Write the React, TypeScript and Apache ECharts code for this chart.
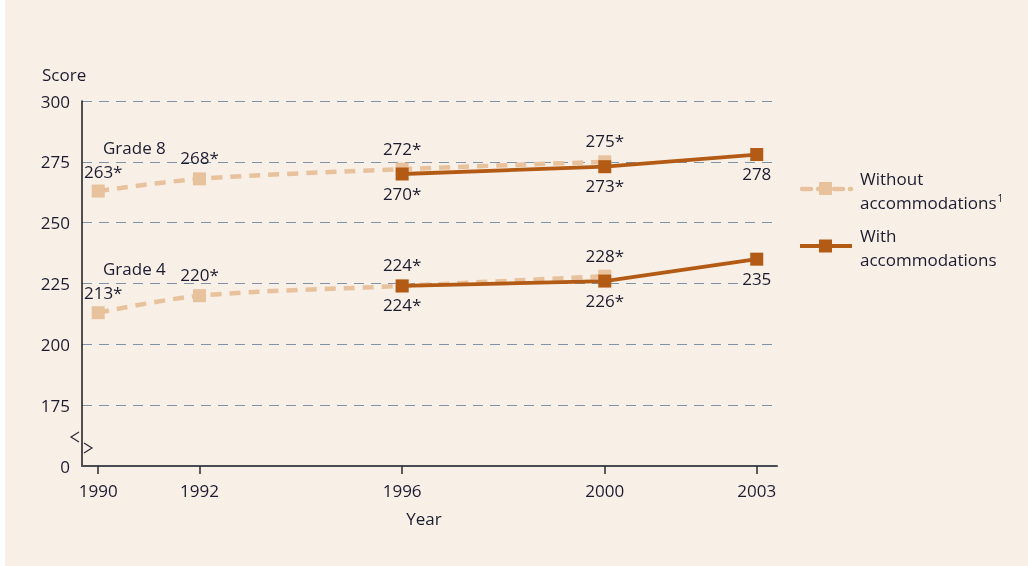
import React, { useEffect, useRef } from "react";
import * as echarts from "echarts";

const years = [1990, 1992, 1996, 2000, 2003];
const withoutYears = [1990, 1992, 1996, 2000];
const withYears = [1996, 2000, 2003];

const without8 = [263, 268, 272, 275];
const without8Sig = [true, true, true, true];
const with8 = [270, 273, 278];
const with8Sig = [true, true, false];

const without4 = [213, 220, 224, 228];
const without4Sig = [true, true, true, true];
const with4 = [224, 226, 235];
const with4Sig = [true, true, false];

const yTicks = [150, 175, 200, 225, 250, 275, 300];
const yTickLabels = ["0", "175", "200", "225", "250", "275", "300"];

const NAME_WITHOUT = "Without accommodations";
const NAME_WITH = "With accommodations";

const BG = "#f8efe6";
const LIGHT = "#e8c19d";
const DARK = "#b35a14";
const TEXT = "#1c1c30";
const FONT = "'Open Sans', 'Noto Sans', sans-serif";
const FS = 17;

export default function App() {
  const ref = useRef<HTMLDivElement>(null);
  useEffect(() => {
    if (!ref.current) return;
    const chart = echarts.init(ref.current, null, { renderer: "svg" });

    const labelFor = (sig: boolean[]) => (p: any) =>
      `${p.value[1]}${sig[p.dataIndex] ? "*" : ""}`;

    const withoutSeries = (name: string, ys: number[], sig: boolean[]) => ({
      type: "line",
      name,
      data: withoutYears.map((x, i) =>
        i === 0 ? { value: [x, ys[i]], label: { offset: [5, 1] } } : { value: [x, ys[i]] }
      ),
      smooth: 0.3,
      symbol: "rect",
      symbolSize: 13,
      z: 2,
      lineStyle: { color: LIGHT, width: 4.5, type: [11, 8] },
      itemStyle: { color: LIGHT },
      label: {
        show: true,
        position: "top",
        distance: 6,
        formatter: labelFor(sig),
        color: TEXT,
        fontSize: FS,
        fontFamily: FONT,
      },
    });

    const withSeries = (name: string, ys: number[], sig: boolean[]) => ({
      type: "line",
      name,
      data: withYears.map((x, i) => [x, ys[i]]),
      symbol: "rect",
      symbolSize: 13,
      z: 3,
      lineStyle: { color: DARK, width: 3.8, type: "solid" },
      itemStyle: { color: DARK },
      label: {
        show: true,
        position: "bottom",
        distance: 4,
        formatter: labelFor(sig),
        color: TEXT,
        fontSize: FS,
        fontFamily: FONT,
        backgroundColor: BG,
        padding: [0, 2],
      },
    });

    const txt = (text: string, x: number, y: number, align = "left") => ({
      type: "text",
      x,
      y,
      style: { text, fill: TEXT, font: `${FS}px ${FONT}`, align, verticalAlign: "middle" },
    });

    chart.setOption({
      animation: false,
      textStyle: { fontFamily: FONT },
      grid: { left: 82, right: 251, top: 101, bottom: 100 },
      xAxis: {
        type: "value",
        min: 1989.68,
        max: 2003.4,
        splitLine: { show: false },
        axisLine: { lineStyle: { color: "#4a4a52", width: 2 } },
        axisTick: {
          show: true,
          customValues: years,
          length: 8,
          lineStyle: { color: "#2a2a35", width: 1.5 },
        },
        axisLabel: {
          customValues: years,
          formatter: (v: number) => String(v),
          color: TEXT,
          fontSize: FS,
          fontFamily: FONT,
          margin: 16,
        },
      },
      yAxis: {
        type: "value",
        min: 150,
        max: 300,
        interval: 25,
        axisLine: { show: true, lineStyle: { color: "#1a1a1a", width: 1.5 } },
        axisTick: { show: false },
        axisLabel: {
          formatter: (v: number) => {
            const i = yTicks.indexOf(v);
            return i >= 0 ? yTickLabels[i] : "";
          },
          color: TEXT,
          fontSize: FS,
          fontFamily: FONT,
          margin: 12,
        },
        splitLine: {
          show: true,
          lineStyle: { color: "#7f93a6", width: 1, type: [10, 7] },
        },
      },
      graphic: [
        {
          type: "rect",
          z: -100,
          silent: true,
          shape: { x: 5, y: 0, width: 1023, height: 566 },
          style: { fill: BG },
        },
        txt("Score", 42, 74),
        txt("Year", 424, 518, "center"),
        txt("Grade 8", 103, 147),
        txt("Grade 4", 103, 268),
        {
          type: "polyline",
          shape: { points: [[79, 432], [71, 437], [79, 442]] },
          style: { stroke: "#2a2a35", lineWidth: 1.2, fill: "none" },
        },
        {
          type: "polyline",
          shape: { points: [[84, 443], [92, 448], [84, 453]] },
          style: { stroke: "#2a2a35", lineWidth: 1.2, fill: "none" },
        },
        // legend: without accommodations
        {
          type: "line",
          shape: { x1: 802, y1: 189, x2: 851, y2: 189 },
          style: { stroke: LIGHT, lineWidth: 4.5, lineDash: [9, 7], lineCap: "round" },
        },
        {
          type: "rect",
          shape: { x: 819, y: 182, width: 13, height: 13 },
          style: { fill: LIGHT },
        },
        txt("Without", 860, 178),
        {
          type: "text",
          x: 860,
          y: 202,
          style: {
            text: "accommodations{sup|1}",
            fill: TEXT,
            font: `${FS}px ${FONT}`,
            verticalAlign: "middle",
            rich: {
              sup: { fontSize: 10, fontFamily: FONT, fill: TEXT, padding: [0, 0, 8, 1] },
            },
          },
        },
        // legend: with accommodations
        {
          type: "line",
          shape: { x1: 800, y1: 246, x2: 852, y2: 246 },
          style: { stroke: DARK, lineWidth: 3.8 },
        },
        {
          type: "rect",
          shape: { x: 819, y: 239.5, width: 13, height: 13 },
          style: { fill: DARK },
        },
        txt("With", 860, 235),
        txt("accommodations", 860, 259),
      ],
      series: [
        withoutSeries(NAME_WITHOUT, without8, without8Sig),
        withoutSeries(NAME_WITHOUT, without4, without4Sig),
        withSeries(NAME_WITH, with8, with8Sig),
        withSeries(NAME_WITH, with4, with4Sig),
      ],
    });
    return () => chart.dispose();
  }, []);
  return (
    <div
      ref={ref}
      style={{ position: "fixed", left: 0, top: 0, width: 1028, height: 566 }}
    />
  );
}
